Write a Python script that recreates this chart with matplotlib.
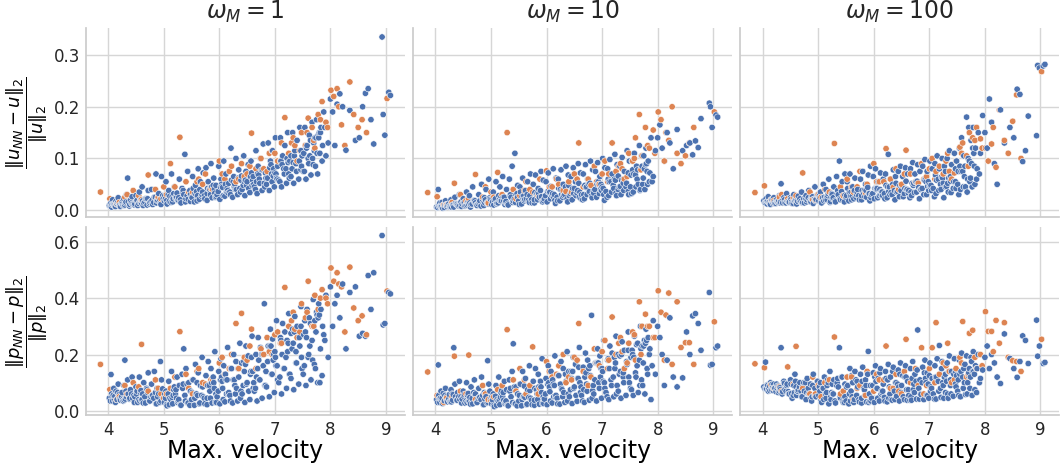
import numpy as np
import matplotlib.pyplot as plt

# Max. velocity of each sample (blue group); y errors below are in units of 1e-3
vel_blue = [
    4.02, 4.05, 4.06, 4.08, 4.10, 4.12, 4.14, 4.16, 4.18, 4.20,
    4.22, 4.25, 4.28, 4.30, 4.33, 4.35, 4.38, 4.40, 4.43, 4.46,
    4.48, 4.50, 4.53, 4.56, 4.58, 4.61, 4.64, 4.67, 4.70, 4.72,
    4.75, 4.78, 4.80, 4.83, 4.86, 4.88, 4.91, 4.94, 4.96, 4.99,
    5.01, 5.04, 5.06, 5.09, 5.11, 5.14, 5.16, 5.19, 5.21, 5.24,
    5.26, 5.28, 5.31, 5.33, 5.36, 5.38, 5.40, 5.43, 5.45, 5.48,
    5.50, 5.52, 5.55, 5.57, 5.59, 5.62, 5.64, 5.66, 5.69, 5.71,
    5.73, 5.76, 5.78, 5.80, 5.83, 5.85, 5.87, 5.90, 5.92, 5.94,
    5.96, 5.99, 6.01, 6.03, 6.06, 6.08, 6.10, 6.12, 6.15, 6.17,
    6.19, 6.21, 6.24, 6.26, 6.28, 6.30, 6.33, 6.35, 6.37, 6.39,
    6.41, 6.44, 6.46, 6.48, 6.50, 6.52, 6.55, 6.57, 6.59, 6.61,
    6.63, 6.66, 6.68, 6.70, 6.72, 6.74, 6.77, 6.79, 6.81, 6.83,
    6.85, 6.88, 6.90, 6.92, 6.94, 6.96, 6.99, 7.01, 7.03, 7.05,
    7.07, 7.10, 7.12, 7.14, 7.16, 7.18, 7.21, 7.23, 7.25, 7.27,
    7.29, 7.32, 7.34, 7.36, 7.38, 7.40, 7.43, 7.45, 7.47, 7.49,
    7.51, 7.54, 7.56, 7.58, 7.60, 7.62, 7.65, 7.67, 7.69, 7.71,
    7.73, 7.75, 7.77, 7.79, 7.81, 7.83, 7.85, 7.88, 7.92, 7.96,
    8.00, 8.04, 8.08, 8.12, 8.17, 8.22, 8.28, 8.35, 8.45, 8.52,
    8.58, 8.63, 8.68, 8.73, 8.78, 8.93, 8.95, 8.98, 9.05, 9.08,
    4.11, 4.19, 4.27, 4.36, 4.44, 4.52, 4.60, 4.69, 4.77, 4.85,
    4.93, 5.02, 5.10, 5.18, 5.27, 5.35, 5.44, 5.53, 5.61, 5.70,
    5.78, 5.86, 5.95, 6.04, 6.13, 6.22, 6.31, 6.40, 6.49, 6.58,
    6.67, 6.76, 6.84, 6.93, 7.02, 7.11, 7.20, 7.29, 7.38, 7.47,
    7.55, 7.63, 7.72, 7.80, 4.07, 4.31, 4.62, 5.15, 5.48, 5.82,
    6.14, 6.45, 6.71, 6.98, 7.24, 7.52, 7.70, 7.78, 5.03, 6.05,
    4.04, 4.09, 4.13, 4.17, 4.21, 4.24, 4.29, 4.32, 4.39, 4.42,
    4.47, 4.51, 4.55, 4.59, 4.63, 4.66, 4.71, 4.74, 4.79, 4.82,
    4.87, 4.90, 4.95, 4.98, 5.05, 5.08, 5.13, 5.17, 5.22, 5.25,
    5.30, 5.34, 5.39, 5.42, 5.47, 5.51, 5.56, 5.60, 5.65, 5.68,
    5.74, 5.79, 5.84, 5.89, 5.93, 5.98, 6.02, 6.07, 6.11, 6.16,
    6.20, 6.25, 6.29, 6.34, 6.38, 6.43, 6.47, 6.53, 6.56, 6.62,
    6.65, 6.69, 6.73, 6.78, 6.82, 6.87, 6.91, 6.95, 7.00, 7.04,
    7.09, 7.13, 7.17, 7.22, 7.26, 7.31, 7.35, 7.39, 7.44, 7.48,
    7.53, 7.57, 7.61, 7.64, 7.68, 7.74, 7.76, 7.82, 7.86, 7.90,
    4.26, 4.57, 4.89, 5.23, 5.58, 5.91, 6.27, 6.60, 6.97, 7.33,
]

u_w1_blue = [
    9, 14, 6, 20, 11, 8, 17, 12, 24, 10,
    7, 15, 22, 10, 30, 62, 8, 19, 26, 12,
    12, 28, 9, 35, 18, 45, 14, 22, 10, 38,
    15, 40, 11, 25, 70, 19, 32, 13, 65, 22,
    18, 55, 12, 38, 27, 70, 16, 45, 24, 33,
    20, 60, 14, 42, 30, 108, 22, 75, 35, 17,
    25, 65, 16, 48, 36, 80, 21, 55, 30, 72,
    28, 82, 19, 55, 40, 90, 24, 62, 33, 48,
    30, 85, 21, 60, 44, 95, 27, 70, 38, 52,
    35, 120, 25, 65, 50, 100, 30, 78, 42, 58,
    40, 105, 28, 75, 55, 88, 34, 95, 48, 65,
    45, 115, 32, 85, 60, 100, 38, 128, 52, 72,
    50, 130, 38, 95, 70, 115, 45, 140, 62, 85,
    58, 140, 45, 105, 80, 125, 52, 150, 70, 95,
    65, 150, 52, 115, 90, 135, 60, 160, 78, 105,
    75, 160, 60, 125, 100, 145, 68, 170, 88, 115,
    85, 175, 70, 140, 110, 160, 95, 190, 105, 130,
    215, 190, 125, 205, 225, 200, 116, 193, 135, 140,
    200, 226, 235, 175, 128, 335, 185, 145, 228, 222,
    10, 13, 9, 16, 12, 19, 14, 22, 17, 25,
    20, 28, 17, 32, 24, 38, 21, 42, 28, 35,
    32, 45, 26, 50, 36, 58, 40, 66, 48, 72,
    55, 78, 62, 88, 70, 95, 80, 105, 90, 115,
    125, 105, 140, 150, 11, 14, 18, 26, 30, 40,
    42, 55, 68, 80, 92, 110, 130, 145, 22, 46,
    8, 12, 7, 15, 10, 13, 9, 16, 11, 14,
    10, 18, 13, 21, 9, 16, 22, 12, 19, 15,
    14, 25, 11, 28, 18, 30, 15, 22, 26, 19,
    20, 35, 16, 28, 38, 24, 32, 18, 40, 27,
    22, 42, 30, 48, 25, 36, 45, 28, 50, 33,
    30, 55, 40, 62, 35, 48, 58, 42, 65, 50,
    40, 70, 52, 78, 45, 62, 82, 55, 72, 60,
    55, 88, 70, 100, 62, 80, 105, 75, 95, 85,
    75, 120, 90, 135, 100, 140, 110, 150, 125, 160,
    12, 16, 20, 24, 30, 40, 45, 58, 66, 92,
]

u_w10_blue = [
    6, 40, 9, 14, 7, 15, 10, 5, 18, 11,
    10, 8, 20, 14, 6, 25, 12, 9, 30, 16,
    12, 22, 8, 35, 16, 28, 11, 45, 19, 14,
    9, 30, 18, 50, 13, 24, 40, 15, 60, 21,
    11, 35, 20, 55, 14, 28, 45, 18, 65, 25,
    15, 40, 10, 60, 25, 85, 18, 110, 30, 48,
    18, 45, 12, 62, 28, 38, 22, 55, 15, 70,
    20, 50, 14, 68, 32, 42, 25, 75, 17, 58,
    22, 55, 16, 72, 35, 46, 28, 80, 19, 62,
    25, 60, 18, 78, 38, 50, 30, 85, 22, 68,
    28, 65, 20, 82, 42, 55, 33, 90, 25, 72,
    30, 70, 22, 88, 45, 60, 36, 95, 28, 78,
    33, 75, 25, 92, 50, 65, 38, 100, 30, 82,
    36, 80, 28, 98, 55, 70, 42, 108, 33, 88,
    40, 85, 30, 102, 60, 75, 45, 115, 36, 95,
    45, 95, 35, 110, 68, 85, 50, 125, 40, 105,
    50, 105, 40, 120, 75, 95, 55, 140, 65, 115,
    140, 165, 120, 95, 150, 130, 80, 156, 115, 125,
    130, 107, 134, 121, 177, 207, 200, 160, 184, 180,
    8, 10, 7, 13, 9, 15, 11, 18, 12, 20,
    14, 22, 12, 26, 17, 30, 15, 35, 21, 28,
    20, 32, 18, 38, 25, 42, 28, 48, 32, 52,
    30, 50, 36, 55, 42, 60, 48, 66, 52, 72,
    78, 60, 85, 90, 7, 10, 14, 20, 25, 30,
    30, 38, 44, 50, 58, 68, 80, 88, 16, 34,
    5, 8, 4, 10, 7, 12, 6, 9, 11, 8,
    7, 14, 9, 17, 6, 12, 18, 10, 15, 8,
    9, 20, 12, 24, 10, 22, 14, 18, 25, 11,
    12, 28, 15, 22, 32, 11, 26, 18, 30, 20,
    14, 34, 20, 38, 16, 28, 36, 22, 32, 13,
    18, 40, 25, 45, 16, 32, 42, 28, 38, 22,
    20, 48, 30, 52, 24, 40, 50, 32, 45, 19,
    25, 55, 35, 60, 28, 45, 58, 38, 52, 30,
    32, 70, 45, 78, 38, 62, 80, 50, 72, 55,
    6, 10, 14, 18, 22, 26, 30, 35, 40, 46,
]

u_w100_blue = [
    18, 14, 22, 12, 26, 16, 11, 20, 15, 24,
    13, 20, 15, 28, 51, 18, 24, 14, 32, 17,
    16, 24, 13, 30, 19, 12, 27, 22, 35, 15,
    14, 28, 20, 38, 16, 25, 13, 45, 21, 30,
    18, 35, 14, 50, 25, 40, 20, 60, 15, 32,
    22, 45, 16, 65, 30, 95, 20, 55, 28, 70,
    25, 55, 18, 70, 35, 45, 22, 62, 30, 40,
    28, 60, 20, 75, 38, 50, 25, 68, 32, 85,
    30, 65, 22, 80, 42, 55, 28, 72, 35, 60,
    32, 70, 24, 108, 45, 60, 30, 78, 38, 65,
    35, 75, 26, 85, 48, 65, 32, 82, 40, 70,
    38, 80, 28, 92, 52, 70, 35, 88, 44, 75,
    40, 85, 30, 98, 55, 75, 38, 95, 48, 80,
    42, 90, 32, 105, 60, 80, 40, 100, 52, 85,
    45, 100, 35, 115, 65, 88, 42, 110, 55, 95,
    50, 120, 40, 140, 75, 105, 45, 180, 60, 160,
    55, 135, 45, 160, 85, 120, 60, 150, 110, 183,
    150, 120, 215, 170, 90, 50, 194, 130, 160, 140,
    234, 224, 94, 115, 182, 144, 280, 275, 279, 282,
    15, 13, 17, 14, 18, 16, 20, 17, 22, 19,
    21, 28, 18, 32, 24, 38, 20, 42, 27, 35,
    28, 38, 24, 42, 30, 48, 34, 52, 38, 56,
    35, 55, 40, 62, 45, 68, 50, 75, 56, 80,
    85, 65, 95, 110, 16, 14, 19, 25, 29, 33,
    36, 42, 48, 55, 62, 75, 100, 120, 24, 40,
    14, 17, 12, 19, 15, 13, 18, 16, 20, 14,
    15, 21, 13, 23, 17, 19, 14, 22, 16, 24,
    16, 26, 18, 29, 15, 24, 20, 28, 17, 30,
    18, 32, 22, 36, 16, 28, 34, 20, 38, 25,
    20, 38, 26, 44, 18, 32, 42, 24, 40, 28,
    22, 45, 30, 50, 20, 36, 48, 26, 42, 33,
    24, 52, 34, 56, 22, 42, 58, 30, 48, 38,
    26, 58, 38, 64, 24, 46, 62, 34, 55, 42,
    30, 75, 45, 85, 35, 62, 90, 50, 80, 70,
    16, 18, 21, 25, 28, 32, 36, 40, 46, 52,
]

p_w1_blue = [
    45, 129, 60, 35, 80, 52, 70, 40, 95, 58,
    38, 65, 90, 180, 50, 110, 42, 75, 120, 55,
    50, 85, 30, 120, 65, 40, 100, 28, 75, 135,
    35, 95, 55, 140, 25, 80, 60, 175, 110, 45,
    30, 70, 18, 105, 45, 140, 25, 85, 60, 120,
    35, 90, 20, 130, 220, 55, 150, 28, 100, 70,
    40, 110, 20, 165, 60, 135, 25, 90, 190, 50,
    45, 125, 22, 175, 70, 150, 28, 100, 210, 60,
    50, 140, 25, 185, 80, 160, 32, 110, 225, 65,
    55, 150, 28, 200, 90, 175, 35, 120, 240, 70,
    60, 175, 30, 230, 100, 195, 40, 140, 265, 80,
    70, 200, 35, 260, 110, 225, 45, 160, 380, 90,
    85, 230, 50, 290, 130, 255, 65, 190, 320, 110,
    100, 260, 60, 310, 150, 280, 80, 210, 345, 130,
    115, 290, 75, 335, 170, 300, 95, 230, 370, 150,
    130, 320, 90, 360, 190, 330, 110, 250, 395, 165,
    150, 350, 100, 380, 100, 360, 125, 270, 410, 190,
    440, 300, 380, 410, 330, 450, 220, 420, 440, 265,
    275, 265, 480, 360, 490, 622, 305, 310, 420, 415,
    40, 55, 35, 60, 45, 70, 38, 80, 50, 65,
    30, 60, 22, 75, 40, 95, 28, 110, 55, 85,
    45, 100, 30, 120, 60, 150, 80, 170, 95, 190,
    120, 200, 140, 230, 160, 250, 190, 275, 210, 300,
    280, 230, 320, 340, 50, 42, 60, 48, 70, 90,
    110, 140, 180, 200, 240, 270, 300, 330, 45, 105,
    35, 55, 30, 65, 42, 50, 38, 70, 45, 60,
    30, 60, 40, 72, 28, 50, 65, 35, 55, 45,
    25, 70, 35, 78, 22, 60, 40, 55, 75, 30,
    22, 80, 35, 95, 20, 65, 45, 100, 28, 55,
    25, 90, 45, 120, 30, 70, 110, 40, 130, 60,
    35, 110, 60, 150, 45, 90, 165, 70, 130, 100,
    80, 150, 110, 200, 90, 175, 230, 130, 210, 160,
    120, 200, 150, 250, 130, 220, 280, 170, 260, 190,
    160, 260, 200, 310, 180, 280, 340, 220, 300, 250,
    40, 35, 50, 45, 60, 80, 110, 140, 180, 240,
]

p_w10_blue = [
    40, 163, 55, 30, 70, 45, 62, 36, 80, 50,
    32, 58, 75, 60, 224, 95, 38, 65, 105, 50,
    42, 70, 28, 100, 55, 35, 85, 25, 110, 60,
    30, 80, 48, 120, 22, 65, 50, 178, 95, 40,
    25, 60, 15, 90, 40, 120, 22, 72, 50, 105,
    30, 75, 18, 110, 50, 140, 238, 25, 85, 60,
    35, 95, 18, 140, 50, 115, 22, 75, 160, 45,
    38, 105, 20, 150, 60, 130, 24, 85, 185, 50,
    42, 115, 22, 160, 68, 140, 28, 95, 195, 55,
    45, 125, 24, 175, 75, 150, 30, 105, 210, 60,
    50, 140, 26, 190, 85, 165, 34, 115, 225, 65,
    55, 155, 30, 205, 95, 180, 38, 125, 339, 72,
    60, 170, 35, 220, 100, 195, 45, 140, 250, 80,
    65, 180, 40, 230, 110, 205, 50, 150, 265, 90,
    70, 195, 45, 245, 120, 215, 55, 165, 280, 100,
    80, 215, 55, 265, 135, 235, 65, 180, 300, 110,
    90, 230, 60, 290, 150, 260, 200, 40, 320, 130,
    300, 260, 200, 90, 180, 330, 120, 85, 117, 280,
    200, 337, 345, 310, 215, 420, 162, 165, 224, 230,
    38, 45, 32, 50, 40, 58, 35, 65, 44, 55,
    28, 52, 20, 65, 35, 80, 25, 95, 48, 72,
    38, 85, 26, 100, 50, 125, 65, 140, 80, 155,
    75, 150, 90, 170, 105, 185, 120, 200, 135, 215,
    200, 160, 230, 250, 42, 38, 48, 40, 60, 75,
    90, 115, 135, 150, 170, 190, 220, 240, 38, 85,
    30, 45, 26, 55, 35, 42, 32, 58, 38, 50,
    28, 52, 35, 62, 24, 44, 58, 30, 48, 40,
    22, 60, 30, 70, 20, 52, 35, 48, 65, 26,
    20, 70, 30, 85, 18, 55, 40, 88, 24, 48,
    22, 80, 40, 105, 26, 60, 95, 35, 110, 50,
    25, 95, 50, 130, 35, 75, 140, 55, 115, 85,
    35, 120, 70, 160, 45, 110, 170, 80, 150, 100,
    50, 150, 90, 190, 60, 130, 200, 100, 175, 120,
    75, 190, 120, 240, 90, 170, 250, 130, 220, 160,
    34, 30, 42, 38, 50, 65, 80, 100, 120, 140,
]

p_w100_blue = [
    85, 173, 78, 92, 70, 88, 100, 75, 82, 95,
    80, 95, 65, 70, 224, 60, 105, 75, 90, 68,
    60, 110, 45, 90, 130, 55, 75, 100, 50, 85,
    70, 40, 115, 60, 95, 35, 130, 80, 50, 105,
    55, 100, 30, 80, 120, 45, 90, 25, 140, 65,
    60, 110, 28, 90, 85, 224, 45, 120, 30, 95,
    35, 120, 25, 150, 70, 100, 30, 140, 55, 85,
    40, 130, 28, 155, 75, 110, 32, 211, 60, 90,
    45, 135, 30, 160, 80, 115, 35, 150, 65, 95,
    48, 140, 32, 165, 85, 120, 38, 155, 70, 100,
    52, 145, 35, 170, 90, 125, 40, 160, 75, 105,
    55, 150, 38, 175, 95, 130, 42, 287, 80, 110,
    58, 155, 40, 180, 100, 135, 45, 170, 85, 115,
    60, 160, 42, 185, 105, 232, 48, 175, 90, 120,
    65, 170, 45, 195, 110, 140, 52, 185, 95, 125,
    70, 180, 50, 205, 120, 150, 58, 195, 100, 135,
    80, 190, 55, 210, 130, 160, 65, 200, 115, 145,
    190, 230, 150, 200, 170, 120, 97, 273, 186, 150,
    119, 175, 266, 250, 168, 322, 194, 230, 168, 172,
    80, 72, 88, 68, 95, 62, 85, 70, 100, 58,
    55, 85, 40, 100, 60, 115, 35, 90, 50, 105,
    45, 90, 35, 105, 60, 115, 40, 100, 65, 120,
    50, 105, 60, 115, 70, 120, 80, 130, 90, 140,
    130, 100, 150, 140, 78, 82, 70, 65, 50, 80,
    70, 85, 75, 95, 100, 110, 125, 140, 70, 80,
    78, 90, 72, 95, 82, 68, 88, 76, 98, 70,
    60, 95, 55, 105, 70, 85, 50, 100, 65, 80,
    45, 90, 55, 105, 38, 80, 60, 110, 48, 95,
    35, 100, 50, 120, 30, 85, 60, 125, 40, 110,
    32, 105, 55, 130, 35, 90, 120, 45, 135, 70,
    35, 110, 60, 140, 40, 95, 130, 50, 120, 75,
    38, 115, 65, 145, 42, 100, 135, 55, 125, 80,
    42, 120, 70, 150, 45, 105, 140, 60, 130, 85,
    55, 140, 80, 165, 60, 120, 175, 75, 150, 100,
    80, 65, 50, 40, 35, 30, 45, 38, 55, 60,
]

# orange group
vel_orange = [
    3.86, 4.03, 4.15, 4.30, 4.34, 4.45, 4.60, 4.72, 4.85, 5.00,
    5.12, 5.29, 5.40, 5.52, 5.63, 5.75, 5.88, 6.00, 6.10, 6.22,
    6.30, 6.40, 6.50, 6.58, 6.66, 6.75, 6.86, 6.95, 7.05, 7.12,
    7.18, 7.25, 7.33, 7.40, 7.48, 7.55, 7.60, 7.67, 7.72, 7.78,
    7.85, 7.92, 8.01, 8.06, 8.12, 8.20, 8.26, 8.35, 8.42, 8.50,
    8.57, 8.65, 9.02, 5.05, 5.70, 6.18, 6.90, 7.36, 4.90, 6.45,
    4.20, 4.55, 4.95, 5.20, 5.45, 5.60, 5.85, 6.05, 6.35, 6.55,
    6.80, 7.00, 7.10, 7.30, 7.45, 7.58, 7.70, 7.82, 7.95, 8.15,
]

u_w1_orange = [
    35, 22, 12, 25, 30, 38, 20, 68, 40, 45,
    90, 141, 55, 35, 60, 70, 40, 95, 60, 85,
    55, 90, 70, 149, 80, 100, 75, 115, 95, 130,
    179, 110, 140, 95, 150, 125, 178, 160, 120, 185,
    210, 170, 232, 220, 235, 165, 125, 248, 185, 160,
    175, 150, 216, 30, 50, 75, 110, 125, 25, 65,
    15, 28, 22, 45, 35, 55, 42, 70, 60, 85,
    80, 110, 95, 130, 115, 150, 135, 175, 160, 200,
]

u_w10_orange = [
    34, 26, 10, 15, 52, 30, 22, 69, 25, 35,
    73, 150, 40, 28, 55, 35, 60, 76, 45, 50,
    38, 55, 70, 130, 45, 60, 85, 50, 95, 70,
    130, 75, 90, 60, 110, 95, 140, 185, 105, 160,
    120, 155, 190, 175, 95, 135, 200, 110, 90, 105,
    130, 160, 190, 25, 40, 60, 55, 80, 45, 35,
    10, 18, 14, 30, 22, 38, 28, 45, 36, 60,
    48, 70, 55, 85, 65, 100, 78, 125, 110, 150,
]

u_w100_orange = [
    34, 47, 20, 25, 30, 22, 28, 72, 35, 30,
    40, 129, 45, 60, 35, 75, 50, 90, 55, 119,
    60, 80, 50, 116, 70, 55, 90, 65, 100, 75,
    85, 70, 110, 60, 95, 122, 130, 105, 150, 140,
    160, 138, 120, 95, 128, 83, 194, 135, 110, 172,
    223, 100, 268, 25, 45, 55, 60, 75, 20, 40,
    18, 24, 20, 35, 28, 45, 34, 55, 44, 70,
    52, 80, 60, 95, 72, 110, 85, 135, 120, 160,
]

p_w1_orange = [
    165, 76, 40, 90, 60, 100, 236, 70, 110, 45,
    80, 281, 130, 60, 150, 95, 110, 170, 130, 200,
    310, 346, 180, 290, 150, 220, 260, 200, 280, 240,
    438, 300, 350, 260, 380, 330, 460, 300, 410, 360,
    430, 400, 507, 460, 490, 440, 280, 510, 365, 320,
    337, 270, 425, 60, 100, 150, 210, 290, 80, 190,
    50, 85, 60, 120, 80, 140, 110, 190, 150, 230,
    200, 270, 240, 320, 280, 350, 300, 400, 380, 450,
]

p_w10_orange = [
    138, 55, 30, 50, 194, 70, 198, 40, 90, 35,
    75, 288, 110, 150, 60, 227, 80, 175, 120, 160,
    200, 120, 190, 310, 140, 90, 220, 160, 250, 180,
    333, 200, 260, 150, 240, 280, 180, 387, 300, 343,
    300, 260, 426, 350, 180, 418, 165, 387, 225, 242,
    242, 165, 316, 50, 90, 130, 170, 210, 60, 110,
    45, 60, 40, 90, 70, 110, 60, 140, 100, 180,
    120, 210, 150, 240, 170, 270, 200, 300, 260, 340,
]

p_w100_orange = [
    167, 153, 93, 85, 70, 156, 229, 80, 60, 90,
    100, 262, 60, 120, 40, 90, 140, 70, 110, 230,
    80, 130, 60, 254, 100, 150, 224, 90, 224, 313,
    130, 170, 240, 100, 150, 190, 317, 120, 275, 286,
    150, 200, 352, 282, 282, 321, 240, 313, 190, 178,
    175, 140, 254, 50, 80, 110, 60, 140, 120, 70,
    80, 95, 60, 110, 70, 120, 55, 130, 80, 140,
    90, 150, 100, 160, 110, 170, 130, 190, 160, 210,
]

omegas = [1, 10, 100]
row_labels = [r'$\dfrac{\|u_{NN} - u\|_2}{\|u\|_2}$',
              r'$\dfrac{\|p_{NN} - p\|_2}{\|p\|_2}$']
blue_rows = [[u_w1_blue, u_w10_blue, u_w100_blue],
             [p_w1_blue, p_w10_blue, p_w100_blue]]
orange_rows = [[u_w1_orange, u_w10_orange, u_w100_orange],
               [p_w1_orange, p_w10_orange, p_w100_orange]]

BLUE = '#4c72b0'
ORANGE = '#dd8452'

plt.rcParams['font.family'] = ['DejaVu Sans']
plt.rcParams['axes.edgecolor'] = '#cccccc'
plt.rcParams['axes.linewidth'] = 1.25
plt.rcParams['grid.color'] = '#d6d6d6'
plt.rcParams['grid.linewidth'] = 1.0
plt.rcParams['text.color'] = '#262626'

fig, axes = plt.subplots(2, 3, figsize=(10.61, 4.66), dpi=100, sharex=True, sharey='row')
fig.subplots_adjust(left=0.081, right=0.9985, top=0.939, bottom=0.109, wspace=0.026, hspace=0.055)

x_all = np.array(vel_blue + vel_orange)
colors = np.array([BLUE] * len(vel_blue) + [ORANGE] * len(vel_orange))
order = np.argsort(x_all, kind='stable')

for r in range(2):
    for c in range(3):
        ax = axes[r, c]
        y_all = np.array(blue_rows[r][c] + orange_rows[r][c]) / 1000.0
        ax.scatter(x_all[order], y_all[order], c=colors[order], s=21,
                   edgecolors='white', linewidths=0.4, zorder=3)
        ax.grid(True)
        ax.set_axisbelow(True)
        ax.spines['top'].set_visible(False)
        ax.spines['right'].set_visible(False)
        ax.tick_params(length=0, labelsize=12, labelcolor='#262626', pad=4)
        if r == 0:
            ax.set_title(r'$\omega_M = %d$' % omegas[c], fontsize=17, pad=7)
        else:
            ax.set_xlabel('Max. velocity', fontsize=17, labelpad=0)
        if c == 0:
            ax.set_ylabel(row_labels[r], fontsize=13, labelpad=3)

axes[0, 0].set_yticks([0.0, 0.1, 0.2, 0.3])
axes[1, 0].set_yticks([0.0, 0.2, 0.4, 0.6])
axes[1, 0].set_xticks([4, 5, 6, 7, 8, 9])

fig.savefig('out.png', dpi=100)
